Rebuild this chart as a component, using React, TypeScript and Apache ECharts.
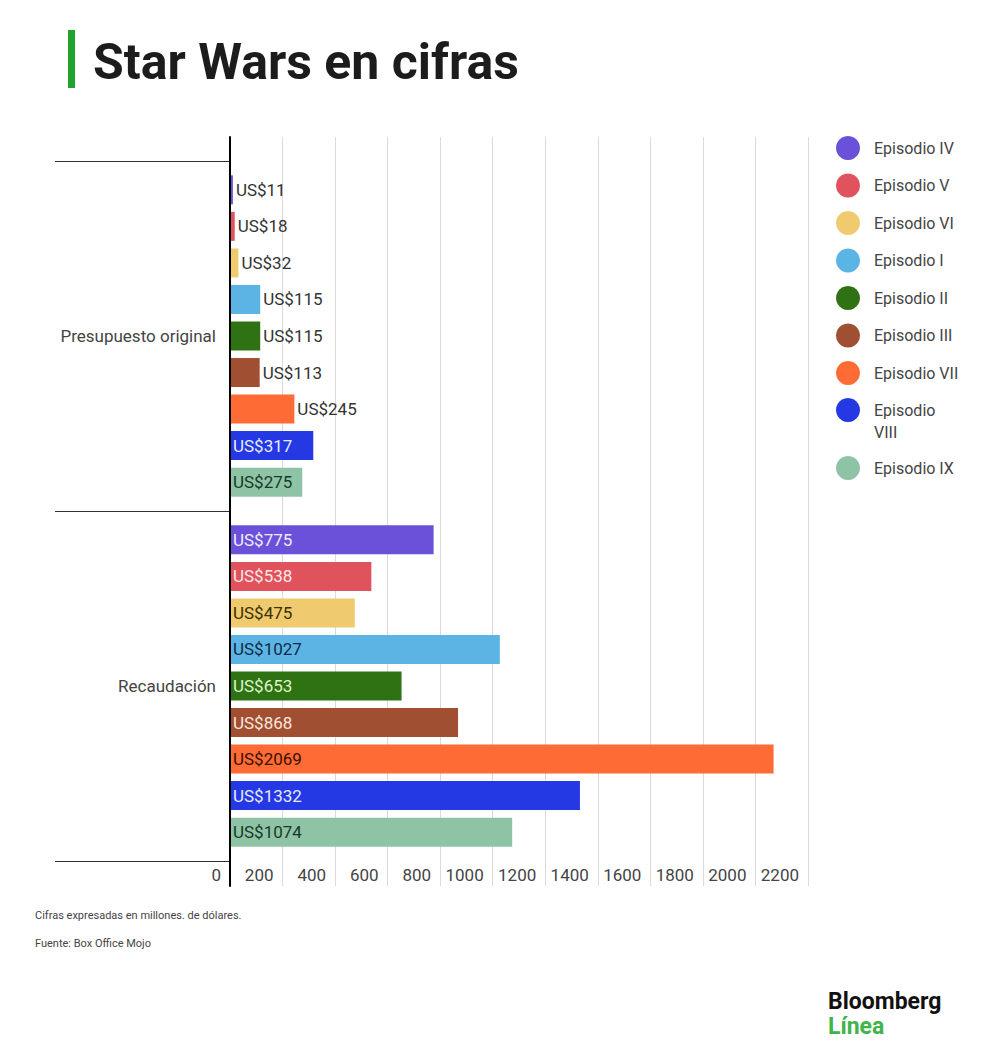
import React, { useEffect, useRef } from "react";
import * as echarts from "echarts";

const categories = ["Presupuesto original", "Recaudación"];
const episodes = [
  "Episodio IV",
  "Episodio V",
  "Episodio VI",
  "Episodio I",
  "Episodio II",
  "Episodio III",
  "Episodio VII",
  "Episodio VIII",
  "Episodio IX",
];
const budget = [11, 18, 32, 115, 115, 113, 245, 317, 275];
const gross = [775, 538, 475, 1027, 653, 868, 2069, 1332, 1074];
const colors = [
  "#6B50D9",
  "#E0535C",
  "#F0CA6E",
  "#5CB4E4",
  "#2E7214",
  "#A14F33",
  "#FF6B35",
  "#2439E3",
  "#8EC3A6",
];
const insideLabelColors = [
  "#F1EDFF",
  "#FFE9E9",
  "#3A3000",
  "#0E2B45",
  "#DDF5C6",
  "#FFE6DB",
  "#3A1000",
  "#E8EBFF",
  "#173A28",
];
const xMin = 0;
const xMax = 2200;
const xInterval = 200;
const insideThreshold = 260;

const FONT = "Roboto, 'Noto Sans', sans-serif";

export default function App() {
  const ref = useRef<HTMLDivElement>(null);

  useEffect(() => {
    if (!ref.current) return;
    const chart = echarts.init(ref.current, undefined, { renderer: "svg" });

    const series = episodes.map((name, i) => ({
      name,
      type: "bar",
      xAxisIndex: 1,
      yAxisIndex: 1,
      barWidth: 29,
      barGap: "26%",
      itemStyle: { color: colors[i] },
      label: {
        show: true,
        formatter: "US${c}",
        fontSize: 17,
        fontFamily: FONT,
        distance: 3,
      },
      data: [budget[i], gross[i]].map((v) => ({
        value: v,
        label:
          v >= insideThreshold
            ? { position: "insideLeft", color: insideLabelColors[i] }
            : { position: "right", color: "#333333" },
      })),
    }));

    const legendBase = {
      orient: "vertical",
      left: 836,
      icon: "circle",
      itemWidth: 24,
      itemHeight: 24,
      itemGap: 13.5,
      padding: 0,
      selectedMode: false,
      textStyle: {
        fontSize: 16,
        color: "#444444",
        fontFamily: FONT,
        padding: [0, 0, 0, 9],
      },
    };

    chart.setOption({
      animation: false,
      backgroundColor: "#ffffff",
      textStyle: { fontFamily: FONT },
      grid: [
        { left: 230, top: 137, width: 578, height: 749, containLabel: false },
        { left: 230, top: 161, width: 578, height: 700, containLabel: false },
      ],
      xAxis: [
        {
          type: "value",
          gridIndex: 0,
          min: xMin,
          max: xMax,
          interval: xInterval,
          axisLine: { show: false },
          axisTick: { show: false },
          splitLine: { show: true, lineStyle: { color: "#DADADA", width: 1 } },
          axisLabel: {
            inside: true,
            align: "right",
            padding: [0, 9, 0, 0],
            margin: 3,
            fontSize: 17,
            color: "#444444",
            fontFamily: FONT,
            formatter: (v: number) => String(v),
          },
        },
        {
          type: "value",
          gridIndex: 1,
          min: xMin,
          max: xMax,
          interval: xInterval,
          show: false,
        },
      ],
      yAxis: [
        {
          type: "value",
          gridIndex: 0,
          min: 0,
          max: 1,
          z: 10,
          axisLine: { show: true, lineStyle: { color: "#000000", width: 2 } },
          axisTick: { show: false },
          axisLabel: { show: false },
          splitLine: { show: false },
        },
        {
          type: "category",
          gridIndex: 1,
          data: categories,
          inverse: true,
          axisLine: { show: false },
          axisTick: {
            show: true,
            length: 175,
            lineStyle: { color: "#333333", width: 1 },
          },
          axisLabel: {
            margin: 14,
            fontSize: 17,
            color: "#444444",
            fontFamily: FONT,
          },
        },
      ],
      legend: [
        { ...legendBase, top: 136, data: episodes.slice(0, 7) },
        {
          ...legendBase,
          top: 377,
          data: [episodes[7]],
          formatter: (name: string) => "\n" + name.replace(" ", "\n"),
          textStyle: {
            ...legendBase.textStyle,
            lineHeight: 22,
          },
        },
        { ...legendBase, top: 456, data: [episodes[8]] },
      ],
      series,
      graphic: [
        {
          type: "rect",
          shape: { x: 68, y: 30, width: 7, height: 58 },
          style: { fill: "#1FA32C" },
        },
        {
          type: "text",
          x: 93,
          y: 62,
          style: {
            text: "Star Wars en cifras",
            font: `bold 50px ${FONT}`,
            fill: "#1C1C1C",
            verticalAlign: "middle",
          },
        },
        {
          type: "text",
          x: 35,
          y: 915,
          style: {
            text: "Cifras expresadas en millones. de dólares.",
            font: `11px ${FONT}`,
            fill: "#444444",
            verticalAlign: "middle",
          },
        },
        {
          type: "text",
          x: 35,
          y: 943,
          style: {
            text: "Fuente: Box Office Mojo",
            font: `11px ${FONT}`,
            fill: "#444444",
            verticalAlign: "middle",
          },
        },
        {
          type: "text",
          x: 828,
          y: 1001,
          style: {
            text: "Bloomberg",
            font: `bold 23px ${FONT}`,
            fill: "#111111",
            verticalAlign: "middle",
          },
        },
        {
          type: "text",
          x: 828,
          y: 1026,
          style: {
            text: "Línea",
            font: `bold 23px ${FONT}`,
            fill: "#3DB54A",
            verticalAlign: "middle",
          },
        },
      ],
    });

    return () => chart.dispose();
  }, []);

  return (
    <div
      ref={ref}
      style={{ position: "absolute", left: 0, top: 0, width: 1000, height: 1054 }}
    />
  );
}
